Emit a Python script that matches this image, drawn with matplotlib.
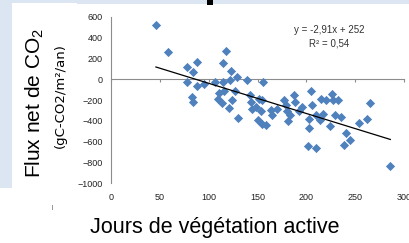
import matplotlib as mpl
import matplotlib.pyplot as plt
from matplotlib.patches import Rectangle
import numpy as np

# jours de végétation active / flux net de CO2
jours = [46, 58, 78, 78, 84, 83, 84, 88, 88, 95,
         106, 111, 110, 115, 115, 118, 114, 116, 123, 122,
         124, 121, 127, 129, 130, 139, 142, 143, 144, 148,
         156, 152, 155, 154, 151, 155, 159, 164, 165, 170,
         177, 179, 180, 183, 181, 187, 188, 193, 196, 205,
         206, 203, 203, 202, 210, 210, 214, 215, 217, 220,
         224, 226, 227, 229, 232, 235, 239, 241, 245, 254,
         262, 265, 286]
flux = [520, 265, 119, -29, 68, -174, -216, 165, -68, -45,
        -26, -129, -190, 155, -23, 277, -226, -110, 81, -6,
        -200, -281, -115, 26, -371, -6, -152, -216, -290, -271,
        -26, -187, -200, -303, -394, -432, -442, -297, -348, -290,
        -200, -248, -303, -345, -400, -155, -223, -303, -271, -113,
        -248, -387, -468, -645, -658, -345, -394, -194, -339, -200,
        -452, -145, -200, -345, -200, -361, -632, -516, -581, -426,
        -381, -232, -835]

pente = -2.91
ordonnee = 252
r2 = 0.54

x_ticks = [0, 50, 100, 150, 200, 250, 300]
y_ticks = [-1000, -800, -600, -400, -200, 0, 200, 400, 600]

W, H = 409, 243
dpi = 100
mpl.rcParams['font.family'] = ['Liberation Sans', 'DejaVu Sans']
mpl.rcParams['mathtext.fontset'] = 'custom'
mpl.rcParams['mathtext.rm'] = 'Liberation Sans'
mpl.rcParams['mathtext.it'] = 'Liberation Sans'

fig = plt.figure(figsize=(W / dpi, H / dpi), dpi=dpi, facecolor='white')


def px(x, y):
    return x / W, 1 - y / H


def rect(x0, y0, x1, y1, color):
    fig.patches.append(Rectangle((x0 / W, 1 - y1 / H), (x1 - x0) / W, (y1 - y0) / H,
                                 transform=fig.transFigure, color=color, lw=0, zorder=-5))


# fond de la diapo
bleu = '#dce6f2'
rect(0, 0, 12, 188, bleu)
rect(0, 0, W, 4, bleu)
rect(12, 3, 77, 188, 'white')
rect(207, 0, 213, 5, 'black')
rect(51.5, 205, 52.5, 210, '#999999')

ax = fig.add_axes([111 / W, 1 - 183 / H, 293 / W, 166 / H])
ax.set_facecolor('none')

ax.scatter(jours, flux, marker='D', s=22, color='#4f81bd', linewidths=0, zorder=3)

xs = np.array([min(jours), max(jours)])
ax.plot(xs, pente * xs + ordonnee, color='black', lw=0.9, zorder=4)

ax.set_xlim(0, 300)
ax.set_ylim(-1000, 600)
ax.set_xticks(x_ticks)
ax.set_yticks(y_ticks)

for s in ['top', 'right']:
    ax.spines[s].set_visible(False)
ax.spines['bottom'].set_position(('data', 0))
ax.spines['bottom'].set_color('#8c8c8c')
ax.spines['left'].set_color('#8c8c8c')
ax.spines['bottom'].set_linewidth(0.8)
ax.spines['left'].set_linewidth(0.8)

ax.tick_params(axis='x', direction='out', length=2.5, color='#8c8c8c', labelbottom=False)
ax.tick_params(axis='y', length=0, pad=6, labelsize=6.5, labelcolor='#222222')
for lab in ax.get_yticklabels():
    lab.set_family(['Liberation Sans Narrow', 'Liberation Sans'])

sec = ax.secondary_xaxis(0)
sec.set_xticks(x_ticks)
sec.spines['bottom'].set_visible(False)
sec.tick_params(length=0, pad=7, labelsize=6.5, labelcolor='#222222')
for lab in sec.get_xticklabels():
    lab.set_family(['Liberation Sans Narrow', 'Liberation Sans'])

eq = 'y = %sx + %d' % (('%.2f' % pente).replace('.', ','), ordonnee)
fig.text(*px(329, 30), eq, ha='center', va='center', fontsize=7,
         family=['Liberation Sans Narrow', 'Liberation Sans'], color='#333333')
fig.text(*px(329, 43), 'R² = ' + ('%.2f' % r2).replace('.', ','), ha='center', va='center',
         fontsize=7, family=['Liberation Sans Narrow', 'Liberation Sans'], color='#333333')

fig.text(*px(35, 103), r'Flux net de CO$_2$', rotation=90, ha='center', va='center',
         fontsize=15, color='black')
fig.text(*px(60, 96), '(gC-CO2/m²/an)', rotation=90, ha='center', va='center',
         fontsize=9.5, family='DejaVu Sans', color='black')
fig.text(*px(215, 228), 'Jours de végétation active', ha='center', va='center',
         fontsize=15.5, color='black')

fig.savefig('out.png', dpi=dpi)
